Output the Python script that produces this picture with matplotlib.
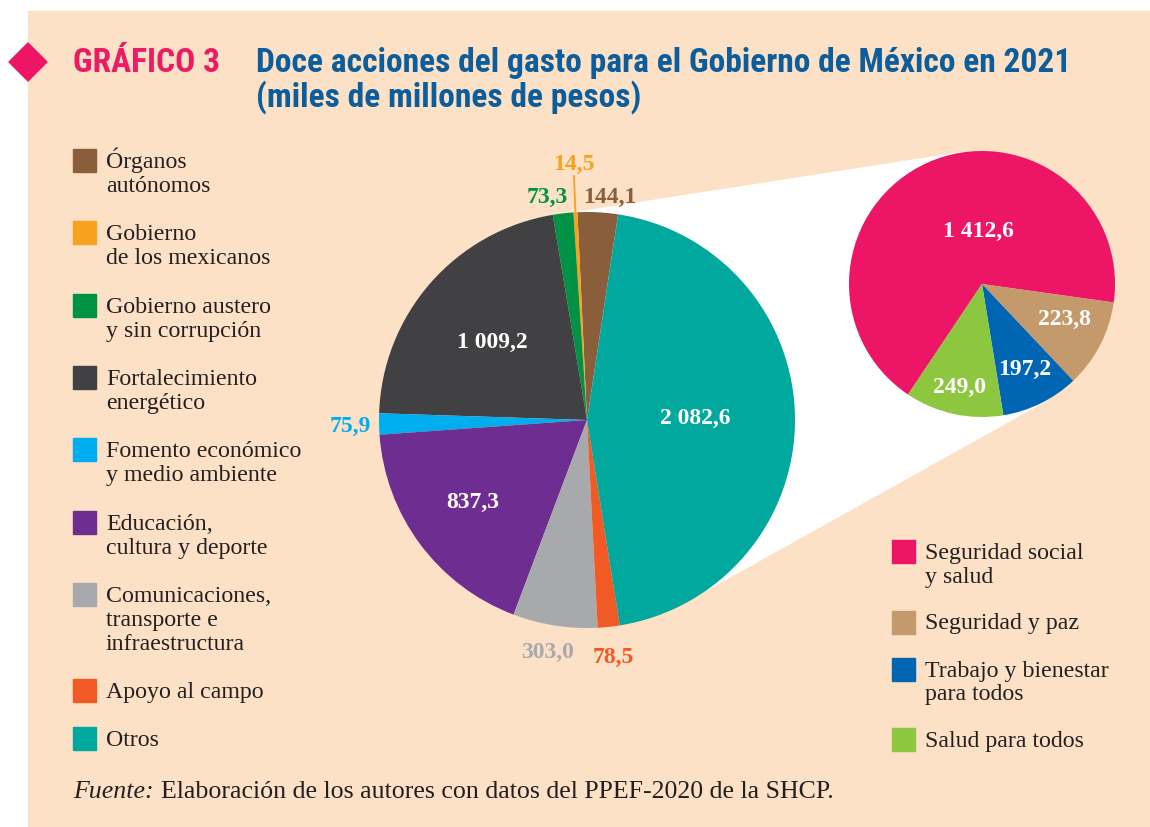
import matplotlib
matplotlib.use('Agg')
import matplotlib.pyplot as plt
import matplotlib.patches as mpatches
from matplotlib import font_manager as fm
import numpy as np

W, H = 1150, 827

# ---- data ----
main_labels = ['Órganos\nautónomos', 'Gobierno\nde los mexicanos',
               'Gobierno austero\ny sin corrupción', 'Fortalecimiento\nenergético',
               'Fomento económico\ny medio ambiente', 'Educación,\ncultura y deporte',
               'Comunicaciones,\ntransporte e\ninfraestructura', 'Apoyo al campo', 'Otros']
main_values = [144.1, 14.5, 73.3, 1009.2, 75.9, 837.3, 303.0, 78.5, 2082.6]
main_text = ['144,1', '14,5', '73,3', '1 009,2', '75,9', '837,3', '303,0', '78,5', '2 082,6']
main_colors = ['#8a5d3b', '#f8a11e', '#009346', '#414042', '#00aeef',
               '#6d2d91', '#a7a9ac', '#f15a24', '#00a89d']

otros_labels = ['Seguridad social\ny salud', 'Seguridad y paz',
                'Trabajo y bienestar\npara todos', 'Salud para todos']
otros_values = [1412.6, 223.8, 197.2, 249.0]
otros_text = ['1 412,6', '223,8', '197,2', '249,0']
otros_colors = ['#ed1566', '#c49a6c', '#0066b3', '#8dc63f']

# label positions (image pixels, x centre / baseline)
main_pos = [(610, 203), (574, 170), (547, 203), (492, 348), (350, 432),
            (473, 508), (547, 658), (613, 663), (695, 424)]
main_inside = [False, False, False, True, False, True, False, False, True]
otros_pos = [(978, 237), (1064, 325), (1025, 375), (959, 393)]

BG = '#fde1c6'
TXT = '#231f20'
SERIF = ['Liberation Serif', 'DejaVu Serif']

# pick a condensed sans for the heading if one is installed
names = {f.name for f in fm.fontManager.ttflist}
NARROW = [n for n in ['Liberation Sans Narrow', 'Roboto Condensed', 'Open Sans Condensed',
                      'Noto Sans Display', 'Roboto'] if n in names] + ['DejaVu Sans']


def Y(y):
    return H - y


fig = plt.figure(figsize=(W / 100, H / 100), dpi=100, facecolor='white')
ax = fig.add_axes([0, 0, 1, 1])
ax.set_xlim(0, W)
ax.set_ylim(0, H)
ax.axis('off')

ax.add_patch(mpatches.Rectangle((28, 0), W - 28, Y(11), color=BG, zorder=0))

# ---- title ----
ax.add_patch(mpatches.Polygon([(9, Y(62)), (28, Y(43)), (47, Y(62)), (28, Y(81))],
                              closed=True, color='#ed1566', zorder=2))
hd = dict(family=NARROW, fontweight='bold', fontstretch='condensed', fontsize=20,
          va='baseline', ha='left')
t_g = ax.text(73, Y(72), 'GRÁFICO 3', color='#ec1b63', **hd)
t_1 = ax.text(256, Y(72), 'Doce acciones del gasto para el Gobierno de México en 2021',
              color='#0b5d9b', **hd)
t_2 = ax.text(256, Y(107), '(miles de millones de pesos)', color='#0b5d9b', **hd)
fig.canvas.draw()
k = 812 / t_1.get_window_extent().width
for t in (t_g, t_1, t_2):
    t.set_fontsize(20 * k)

# ---- pies ----
mc, R = np.array([587.0, Y(420)]), 208.0
zc, r = np.array([982.0, Y(284)]), 133.0


def tangent(p, c, rad, upper):
    d = np.hypot(*(p - c))
    th = np.arctan2(p[1] - c[1], p[0] - c[0])
    ph = np.arccos(rad / d)
    a = th - ph if upper else th + ph
    return c + rad * np.array([np.cos(a), np.sin(a)])


p1 = mc + R * np.array([np.cos(np.radians(92.5)), np.sin(np.radians(92.5))])
p2 = mc + R * np.array([np.cos(np.radians(-54.3)), np.sin(np.radians(-54.3))])
t1 = tangent(p1, zc, r, True)
t2 = tangent(p2, zc, r, False)
ax.add_patch(mpatches.Polygon([mc, p1, t1, zc, t2, p2], closed=True,
                              color='white', zorder=1))

wedges, _ = ax.pie(main_values, colors=main_colors, startangle=81.4,
                   counterclock=True, center=tuple(mc), radius=R,
                   wedgeprops=dict(linewidth=0, zorder=3), frame=True)
ax.pie(otros_values, colors=otros_colors, startangle=236.2,
       counterclock=False, center=tuple(zc), radius=r,
       wedgeprops=dict(linewidth=0, zorder=3), frame=True)
ax.set_xlim(0, W)
ax.set_ylim(0, H)
ax.set_aspect('equal')
ax.axis('off')

for txt, (x, y), inside, col in zip(main_text, main_pos, main_inside, main_colors):
    ax.text(x, Y(y), txt, family=SERIF, fontweight='bold', fontsize=17,
            color='white' if inside else col, ha='center', va='baseline', zorder=5)
for txt, (x, y) in zip(otros_text, otros_pos):
    ax.text(x, Y(y), txt, family=SERIF, fontweight='bold', fontsize=17,
            color='white', ha='center', va='baseline', zorder=5)

# leader for the thin orange slice
w = wedges[1]
mid = np.radians((w.theta1 + w.theta2) / 2)
ax.plot([mc[0] + R * np.cos(mid), 574], [mc[1] + R * np.sin(mid), Y(176)],
        color=main_colors[1], lw=1.3, zorder=4)


# ---- legends ----
def legend(x0, top, labels, colors, step=24.1):
    y = top
    for lab, col in zip(labels, colors):
        ax.add_patch(mpatches.Rectangle((x0, Y(y + 23)), 23, 23, color=col, zorder=4))
        lines = lab.split('\n')
        for i, ln in enumerate(lines):
            ax.text(x0 + 33, Y(y + 19 + i * step), ln, family=SERIF, fontsize=17.2,
                    color=TXT, ha='left', va='baseline', zorder=5)
        y += (len(lines) + 1) * step


legend(73, 149, main_labels, main_colors)
legend(892, 540, otros_labels, otros_colors, step=23.5)

# ---- source ----
src = dict(family=SERIF, fontsize=17, color=TXT, ha='left', va='baseline')
t_f = ax.text(73, Y(798), 'Fuente:', style='italic', **src)
t_s = ax.text(150, Y(798), 'Elaboración de los autores con datos del PPEF-2020 de la SHCP.', **src)
fig.canvas.draw()
s = 763 / (t_s.get_window_extent().x1 - t_f.get_window_extent().x0 + 6)
t_f.set_fontsize(17 * s)
t_s.set_fontsize(17 * s)
fig.canvas.draw()
t_s.set_x(t_f.get_window_extent().x1 + 7)

fig.savefig('out.png', dpi=100, facecolor='white')
